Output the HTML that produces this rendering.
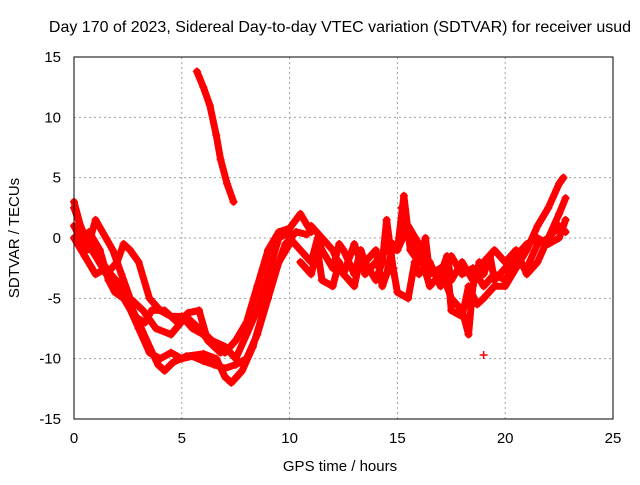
<!DOCTYPE html>
<html><head><meta charset="utf-8"><style>
body{margin:0;background:#fff;width:640px;height:480px;overflow:hidden}
text{font-family:"Liberation Sans",sans-serif;font-size:15px;fill:#000}
</style></head><body>
<svg id="chart" width="640" height="480" xmlns="http://www.w3.org/2000/svg">
<rect width="640" height="480" fill="#fff"/>
<g id="grid"></g>
<g id="series"></g>
<rect x="74" y="57" width="539" height="362" fill="none" stroke="#000" stroke-width="1"/>
<g id="ticks"></g>
<text x="340" y="32" text-anchor="middle" style="font-size:16px">Day 170 of 2023, Sidereal Day-to-day VTEC variation (SDTVAR) for receiver usud</text>
<text x="340" y="471" text-anchor="middle">GPS time / hours</text>
<text x="0" y="0" transform="translate(19,238) rotate(-90)" text-anchor="middle">SDTVAR / TECUs</text>
</svg>
<script>
const xTicks=[0,5,10,15,20,25];
const yTicks=[15,10,5,0,-5,-10,-15];
const traceA=[[5.7,13.8],[6.0,12.5],[6.3,11],[6.6,8.5],[6.8,6.5],[7.1,4.5],[7.4,3]];
const trace1=[[0,3],[0.3,1],[0.8,-1],[1.3,-2],[1.7,-3],[2.2,-4],[2.6,-5.5],[3.0,-7],[3.5,-9],[3.9,-10.5],[4.2,-11],[4.6,-10.3],[5.2,-9.8],[6,-9.6],[6.6,-10],[7.0,-11.5],[7.3,-12],[7.8,-11],[8.3,-9],[8.8,-6],[9.3,-3],[9.8,-0.5],[10.3,0.5],[10.8,0.3]];
const trace2=[[0,2.5],[0.5,0],[1,-1.5],[1.5,-3],[2,-2],[2.3,-0.5],[2.6,-1],[3,-2],[3.5,-5],[4,-6],[4.5,-6.5],[5,-6.5],[5.5,-7.5],[6,-8],[6.5,-9],[7,-9.5],[7.5,-8.5],[8,-7],[8.5,-4],[9,-1],[9.5,0.5],[10,0.8],[10.5,2],[11,0.5]];
const trace3=[[0,1],[0.6,-1],[1.0,1.5],[1.8,-1],[2.2,-3],[2.6,-5],[3.2,-6],[3.8,-7.5],[4.5,-8],[5.2,-6.5],[5.8,-7.5],[6.4,-8.5],[7,-9],[7.5,-10],[8,-8],[8.5,-6],[9,-3],[9.5,0],[10,0.5]];
const trace4=[[0,0],[0.5,-1.5],[1.0,-3],[1.5,-2.5],[2,-4],[2.5,-5.5],[3,-7.5],[3.5,-9.5],[4,-10],[4.5,-9.5],[5,-10],[5.5,-9.8],[6,-10.2],[6.5,-10.5],[7,-10.8],[7.5,-10.5],[8,-10],[8.5,-8],[9,-5],[9.5,-2],[10,-0.5]];
const trace8=[[0.3,-0.5],[0.7,0.5],[1.2,-1],[1.6,-3.5],[1.9,-4.5],[2.3,-5],[2.8,-6.5],[3.3,-7],[3.6,-6],[4.2,-6],[4.8,-7],[5.3,-6.2],[5.8,-6],[6.2,-8.5],[6.8,-9.5]];
const trace5=[[10,0],[10.5,-1],[11,-2],[11.3,0],[11.5,-1],[12,-2.5],[12.3,-0.5],[12.5,-1],[13,-3],[13.3,-1],[13.5,-2],[14,-1],[14.3,-4],[14.5,-3],[14.8,-0.5],[15,-1],[15.3,3.5],[15.6,-1],[16,-2],[16.3,0],[16.5,-3],[17,-2.5],[17.3,-4],[17.5,-5],[18,-6],[18.3,-8],[18.5,-4],[18.8,-2],[19,-3],[19.3,-1.5],[19.5,-3.5],[20,-2.5],[20.5,-1.5],[21,-0.5],[21.5,0],[22,-0.5],[22.5,0],[22.8,1.5]];
const trace6=[[10.5,-2],[11,-3],[11.3,-1],[11.5,-3.5],[12,-4],[12.3,-2],[12.5,-3],[13,-4],[13.3,-1.5],[13.5,-2],[14,-3.5],[14.3,-2],[14.5,1.5],[14.8,-2.5],[15,-4.5],[15.5,-5],[15.8,-2],[16,-3],[16.5,-2],[17,-4],[17.3,-2],[17.5,-6],[18,-6.5],[18.3,-4],[18.7,-5.5],[19,-5],[19.5,-4],[20,-4],[20.5,-2.5],[21,-1],[21.5,1],[22,2.5],[22.5,4.5],[22.7,5]];
const trace7=[[11,1],[11.5,0],[12,-1],[12.5,-3],[13,-0.5],[13.5,-3],[14,-2],[14.5,-1],[15,-1],[15.5,1],[16,-0.5],[16.5,-2.5],[17,-3],[17.3,-1.5],[17.5,-3.5],[18,-2],[18.5,-3.5],[19,-2],[19.5,-1],[20,-2],[20.5,-1],[21,-3],[21.5,-2],[22,0],[22.5,2],[22.8,3.3]];
const trace9=[[15.2,2.5],[15.5,0],[16,-1],[16.5,-4],[17,-3],[17.5,-1.5],[18,-3],[18.5,-2.5],[19,-4],[19.5,-3],[20,-3.5],[20.5,-2],[21,-2.5],[21.5,-0.5],[22,0],[22.5,1],[22.8,0.5]];
const outliers=[[19,-9.7]];
const NS='http://www.w3.org/2000/svg';
const X0=74,X1=613,Y0=419,Y1=57;
function sx(v){return X0+(v-0)/(25-0)*(X1-X0);}
function sy(v){return Y0-(v+15)/30*(Y0-Y1);}
function mk(t,a,p){const e=document.createElementNS(NS,t);for(const k in a)e.setAttribute(k,a[k]);p.appendChild(e);return e;}
const grid=document.getElementById('grid'),ticks=document.getElementById('ticks'),ser=document.getElementById('series');
xTicks.forEach(v=>{
 if(v>0&&v<25){const l=mk('line',{x1:sx(v),x2:sx(v),y1:Y1,y2:Y0,stroke:'#a0a0a0','stroke-dasharray':'2,3'},grid);}
 const t=mk('text',{x:sx(v),y:Y0+24,'text-anchor':'middle'},ticks);t.textContent=v;
 
});
yTicks.forEach(v=>{
 if(v>-15&&v<15){const l=mk('line',{x1:X0,x2:X1,y1:sy(v),y2:sy(v),stroke:'#a0a0a0','stroke-dasharray':'2,3'},grid);}
 const t=mk('text',{x:X0-13,y:sy(v)+5,'text-anchor':'end'},ticks);t.textContent=v;
 
});
const all=[traceA,trace1,trace2,trace3,trace4,trace8,trace5,trace6,trace7,trace9];
all.forEach(tr=>{
 const pts=tr.map(p=>sx(p[0])+','+sy(p[1])).join(' ');
 const pl=mk('polyline',{points:pts,fill:'none',stroke:'#ff0000','stroke-width':7,'stroke-linejoin':'round','stroke-linecap':'round'},ser);
 
 
});
all.concat([outliers]).forEach(tr=>{
 tr.forEach(p=>{
  const x=sx(p[0]),y=sy(p[1]);
  const m=mk('path',{d:`M${x-4},${y}H${x+4}M${x},${y-4}V${y+4}`,stroke:'#ff0000','stroke-width':1.5},ser);
  
  
 });
});
</script>
</body></html>
